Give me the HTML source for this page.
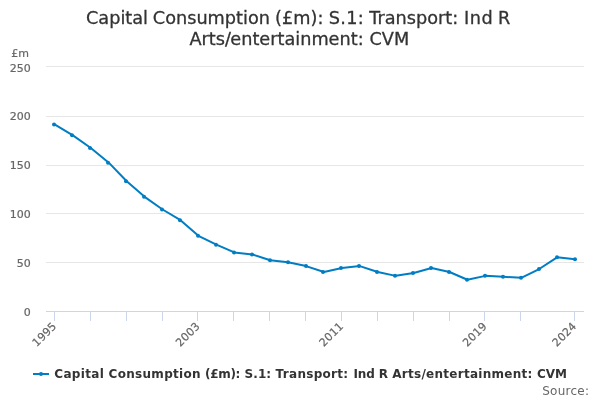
<!DOCTYPE html>
<html><head><meta charset="utf-8"><title>Chart</title>
<style>
html,body{margin:0;padding:0;background:#fff;}
svg{display:block;font-family:"DejaVu Sans","Liberation Sans",sans-serif;}
</style></head><body>
<svg width="600" height="400" viewBox="0 0 600 400">
<rect x="0" y="0" width="600" height="400" fill="#ffffff"/>
<g><path d="M 46 66.5 L 584 66.5" stroke="#e6e6e6" stroke-width="1" fill="none"/><path d="M 46 116.5 L 584 116.5" stroke="#e6e6e6" stroke-width="1" fill="none"/><path d="M 46 165.5 L 584 165.5" stroke="#e6e6e6" stroke-width="1" fill="none"/><path d="M 46 213.5 L 584 213.5" stroke="#e6e6e6" stroke-width="1" fill="none"/><path d="M 46 262.5 L 584 262.5" stroke="#e6e6e6" stroke-width="1" fill="none"/></g>
<path d="M 46 311.5 L 584 311.5" stroke="#ccd6eb" stroke-width="1" fill="none"/>
<g><path d="M 54.5 311 L 54.5 321" stroke="#ccd6eb" stroke-width="1" fill="none"/><path d="M 90.5 311 L 90.5 321" stroke="#ccd6eb" stroke-width="1" fill="none"/><path d="M 126.5 311 L 126.5 321" stroke="#ccd6eb" stroke-width="1" fill="none"/><path d="M 162.5 311 L 162.5 321" stroke="#ccd6eb" stroke-width="1" fill="none"/><path d="M 197.5 311 L 197.5 321" stroke="#ccd6eb" stroke-width="1" fill="none"/><path d="M 233.5 311 L 233.5 321" stroke="#ccd6eb" stroke-width="1" fill="none"/><path d="M 269.5 311 L 269.5 321" stroke="#ccd6eb" stroke-width="1" fill="none"/><path d="M 305.5 311 L 305.5 321" stroke="#ccd6eb" stroke-width="1" fill="none"/><path d="M 341.5 311 L 341.5 321" stroke="#ccd6eb" stroke-width="1" fill="none"/><path d="M 377.5 311 L 377.5 321" stroke="#ccd6eb" stroke-width="1" fill="none"/><path d="M 413.5 311 L 413.5 321" stroke="#ccd6eb" stroke-width="1" fill="none"/><path d="M 449.5 311 L 449.5 321" stroke="#ccd6eb" stroke-width="1" fill="none"/><path d="M 484.5 311 L 484.5 321" stroke="#ccd6eb" stroke-width="1" fill="none"/><path d="M 520.5 311 L 520.5 321" stroke="#ccd6eb" stroke-width="1" fill="none"/><path d="M 574.5 311 L 574.5 321" stroke="#ccd6eb" stroke-width="1" fill="none"/></g>
<text y="24" font-size="17.7" fill="#333333" stroke="#333333" stroke-width="0.3"><tspan x="86.0">Capital </tspan><tspan x="152.8">Consumption </tspan><tspan x="275.1">(£m): </tspan><tspan x="328.7" style="letter-spacing:0.3px">S.1: </tspan><tspan x="369.3">Transport: </tspan><tspan x="463.9" style="letter-spacing:0.6px">Ind </tspan><tspan x="498.0">R</tspan></text>
<text y="45" font-size="17.7" fill="#333333" stroke="#333333" stroke-width="0.3"><tspan x="189.5">Arts/</tspan><tspan x="230.3">entertainment: </tspan><tspan x="369.5">CVM</tspan></text>
<text x="11.3" y="57" font-size="11" fill="#666666" stroke="#666666" stroke-width="0.2">£m</text>
<g font-size="11" fill="#666666" stroke="#666666" stroke-width="0.2"><text x="30.7" y="316" text-anchor="end">0</text><text x="30.7" y="267" text-anchor="end">50</text><text x="30.7" y="218" text-anchor="end">100</text><text x="30.7" y="169" text-anchor="end">150</text><text x="30.7" y="120" text-anchor="end">200</text><text x="30.7" y="72" text-anchor="end">250</text></g>
<g font-size="11" fill="#666666" stroke="#666666" stroke-width="0.2" style="letter-spacing:0.2px"><text x="57.2" y="326.8" text-anchor="end" transform="rotate(-45 57.2 326.8)">1995</text><text x="200.6" y="326.8" text-anchor="end" transform="rotate(-45 200.6 326.8)">2003</text><text x="344.1" y="326.8" text-anchor="end" transform="rotate(-45 344.1 326.8)">2011</text><text x="487.6" y="326.8" text-anchor="end" transform="rotate(-45 487.6 326.8)">2019</text><text x="577.2" y="326.8" text-anchor="end" transform="rotate(-45 577.2 326.8)">2024</text></g>
<path d="M 54.97 124.58 L 72.90 135.32 L 90.83 148.01 L 108.77 162.65 L 126.70 181.19 L 144.63 196.81 L 162.57 209.50 L 180.50 220.23 L 198.43 235.85 L 216.37 244.63 L 234.30 252.44 L 252.23 254.39 L 270.17 260.25 L 288.10 262.20 L 306.03 266.10 L 323.97 271.96 L 341.90 268.06 L 359.83 266.10 L 377.77 271.96 L 395.70 275.86 L 413.63 272.94 L 431.57 268.06 L 449.50 271.96 L 467.43 279.77 L 485.37 275.86 L 503.30 276.84 L 521.23 277.82 L 539.17 269.03 L 557.10 257.32 L 575.03 259.27" stroke="#007dc3" stroke-width="2" fill="none" stroke-linejoin="round" stroke-linecap="round"/>
<g><circle cx="54" cy="124.58" r="2" fill="#007dc3"/><circle cx="72" cy="135.32" r="2" fill="#007dc3"/><circle cx="90" cy="148.01" r="2" fill="#007dc3"/><circle cx="108" cy="162.65" r="2" fill="#007dc3"/><circle cx="126" cy="181.19" r="2" fill="#007dc3"/><circle cx="144" cy="196.81" r="2" fill="#007dc3"/><circle cx="162" cy="209.50" r="2" fill="#007dc3"/><circle cx="180" cy="220.23" r="2" fill="#007dc3"/><circle cx="198" cy="235.85" r="2" fill="#007dc3"/><circle cx="216" cy="244.63" r="2" fill="#007dc3"/><circle cx="234" cy="252.44" r="2" fill="#007dc3"/><circle cx="252" cy="254.39" r="2" fill="#007dc3"/><circle cx="270" cy="260.25" r="2" fill="#007dc3"/><circle cx="288" cy="262.20" r="2" fill="#007dc3"/><circle cx="306" cy="266.10" r="2" fill="#007dc3"/><circle cx="323" cy="271.96" r="2" fill="#007dc3"/><circle cx="341" cy="268.06" r="2" fill="#007dc3"/><circle cx="359" cy="266.10" r="2" fill="#007dc3"/><circle cx="377" cy="271.96" r="2" fill="#007dc3"/><circle cx="395" cy="275.86" r="2" fill="#007dc3"/><circle cx="413" cy="272.94" r="2" fill="#007dc3"/><circle cx="431" cy="268.06" r="2" fill="#007dc3"/><circle cx="449" cy="271.96" r="2" fill="#007dc3"/><circle cx="467" cy="279.77" r="2" fill="#007dc3"/><circle cx="485" cy="275.86" r="2" fill="#007dc3"/><circle cx="503" cy="276.84" r="2" fill="#007dc3"/><circle cx="521" cy="277.82" r="2" fill="#007dc3"/><circle cx="539" cy="269.03" r="2" fill="#007dc3"/><circle cx="557" cy="257.32" r="2" fill="#007dc3"/><circle cx="575" cy="259.27" r="2" fill="#007dc3"/></g>
<path d="M 33 374 L 49 374" stroke="#007dc3" stroke-width="2" fill="none"/>
<circle cx="41" cy="374" r="2" fill="#007dc3"/>
<text y="378" font-size="12" font-weight="bold" fill="#333333" style="letter-spacing:0.19px"><tspan x="54.25" style="letter-spacing:0.35px">Capital </tspan><tspan x="108.6" style="letter-spacing:0.3px">Consumption </tspan><tspan x="205.0" style="letter-spacing:-0.3px">(£m): </tspan><tspan x="244.5" style="letter-spacing:0.1px">S.1: </tspan><tspan x="275.6" style="letter-spacing:0.3px">Transport: </tspan><tspan x="353.4" style="letter-spacing:-0.1px">Ind </tspan><tspan x="378.8">R </tspan><tspan x="392.3" style="letter-spacing:0.27px">Arts/entertainment: </tspan><tspan x="537.0" style="letter-spacing:0px">CVM</tspan></text>
<text x="542.2" y="395" font-size="12" fill="#666666" textLength="46.8" lengthAdjust="spacing">Source:</text>
</svg>
</body></html>
